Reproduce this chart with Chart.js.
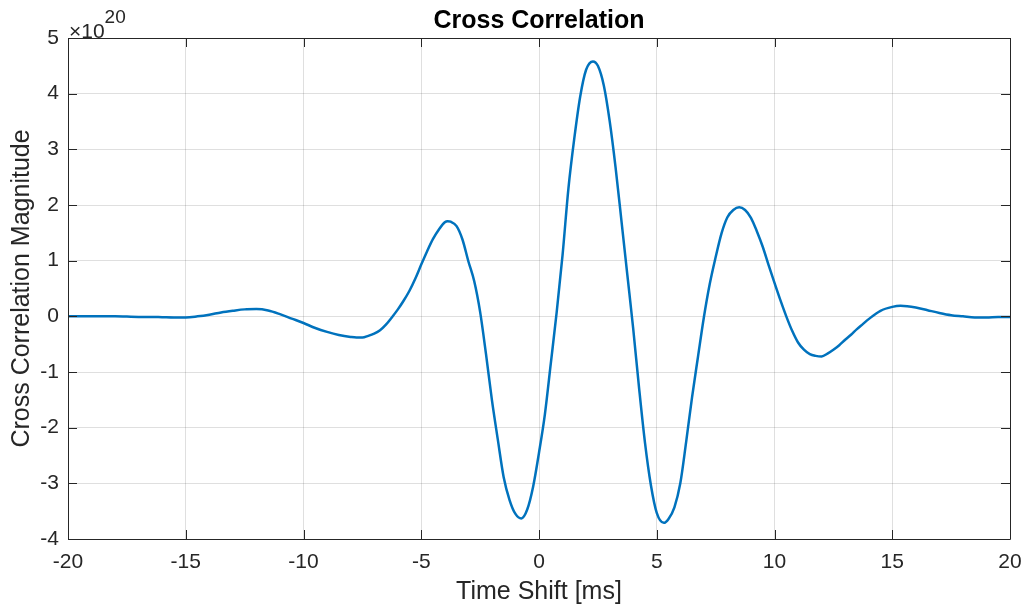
<!DOCTYPE html>
<html>
<head>
<meta charset="utf-8">
<title>Cross Correlation</title>
<script src="https://cdn.jsdelivr.net/npm/chart.js@4"></script>
<style>
  html, body { margin: 0; padding: 0; background: #fff; }
  #xcorr { display: block; }
</style>
</head>
<body>
<canvas id="xcorr" width="1026" height="607"></canvas>
<script>
// ===== Data (magnitude in units of 1e20) =====
const timeShiftMs = [
  -20, -19.5, -19, -18.5, -18, -17.5, -17, -16.5, -16, -15.5,
  -15, -14.5, -14, -13.5, -13, -12.5, -12, -11.5, -11, -10.5,
  -10, -9.5, -9, -8.5, -8, -7.75, -7.5, -7.25, -7, -6.75,
  -6.5, -6.25, -6, -5.75, -5.5, -5.25, -5, -4.75, -4.5, -4.25,
  -4, -3.88, -3.75, -3.5, -3.25, -3, -2.75, -2.5, -2.25, -2,
  -1.75, -1.5, -1.25, -1, -0.75, -0.5, -0.25, 0, 0.25, 0.5,
  0.75, 1, 1.25, 1.5, 1.75, 2, 2.29, 2.5, 2.75, 3,
  3.25, 3.5, 3.75, 4, 4.25, 4.5, 4.75, 5, 5.3, 5.5,
  5.75, 6, 6.25, 6.5, 6.75, 7, 7.25, 7.5, 7.75, 8,
  8.25, 8.5, 8.75, 9, 9.25, 9.5, 9.75, 10, 10.25, 10.5,
  10.75, 11, 11.25, 11.5, 11.75, 12, 12.25, 12.5, 12.75, 13,
  13.25, 13.5, 13.75, 14, 14.5, 15, 15.35, 16, 16.5, 17,
  17.5, 18, 18.5, 19, 19.5, 20,
];

const xcorrMagnitude = [
  0, 0, 0, 0, 0, -0.005, -0.01, -0.01, -0.015, -0.02,
  -0.02, 0, 0.03, 0.07, 0.1, 0.125, 0.13, 0.105, 0.04, -0.04,
  -0.12, -0.21, -0.28, -0.335, -0.37, -0.38, -0.38, -0.35, -0.31, -0.25,
  -0.15, -0.02, 0.12, 0.28, 0.46, 0.68, 0.93, 1.17, 1.39, 1.56,
  1.69, 1.71, 1.7, 1.62, 1.38, 0.99, 0.63, 0.08, -0.68, -1.5,
  -2.21, -2.89, -3.3, -3.55, -3.63, -3.47, -3.06, -2.45, -1.76, -0.85,
  0.07, 1.1, 2.3, 3.2, 3.95, 4.43, 4.58, 4.5, 4.15, 3.51,
  2.68, 1.72, 0.75, -0.22, -1.29, -2.27, -3.03, -3.53, -3.71, -3.64,
  -3.43, -3, -2.25, -1.45, -0.73, -0.02, 0.58, 1.06, 1.49, 1.78,
  1.91, 1.96, 1.91, 1.77, 1.53, 1.25, 0.92, 0.6, 0.29, 0,
  -0.26, -0.47, -0.6, -0.68, -0.71, -0.72, -0.67, -0.6, -0.52, -0.42,
  -0.33, -0.23, -0.14, -0.05, 0.1, 0.17, 0.19, 0.16, 0.11, 0.06,
  0.02, 0, -0.02, -0.02, -0.01, -0.01,
];

const xTicks = [-20, -15, -10, -5, 0, 5, 10, 15, 20];
const yTicks = [-4, -3, -2, -1, 0, 1, 2, 3, 4, 5];
const yExponent = 20;

const FONT = '"Liberation Sans", Arial, Helvetica, sans-serif';
const AXIS_COLOR = '#262626';
const LINE_BLUE = '#0072bd';
const TICK_LEN = 9;

// ===== Box, inward ticks, title and exponent (MATLAB look) =====
const matlabAxes = {
  id: 'matlabAxes',
  afterDraw(chart) {
    const { ctx, chartArea: area, scales } = chart;
    const { left, right, top, bottom } = area;
    ctx.save();
    ctx.strokeStyle = AXIS_COLOR;
    ctx.lineWidth = 1;
    ctx.beginPath();
    ctx.rect(Math.round(left) + 0.5, Math.round(top) + 0.5,
      Math.round(right - left), Math.round(bottom - top));
    xTicks.forEach((v) => {
      const px = Math.round(scales.x.getPixelForValue(v)) + 0.5;
      ctx.moveTo(px, bottom); ctx.lineTo(px, bottom - TICK_LEN);
      ctx.moveTo(px, top); ctx.lineTo(px, top + TICK_LEN);
    });
    yTicks.forEach((v) => {
      const py = Math.round(scales.y.getPixelForValue(v)) + 0.5;
      ctx.moveTo(left, py); ctx.lineTo(left + TICK_LEN, py);
      ctx.moveTo(right, py); ctx.lineTo(right - TICK_LEN, py);
    });
    ctx.stroke();

    // title, centred over the plot box
    ctx.fillStyle = '#000';
    ctx.font = `bold 25px ${FONT}`;
    ctx.textAlign = 'center';
    ctx.textBaseline = 'alphabetic';
    ctx.fillText('Cross Correlation', (left + right) / 2, 28);

    // ×10^20 multiplier above the y axis
    ctx.fillStyle = AXIS_COLOR;
    ctx.textAlign = 'left';
    ctx.font = `21px ${FONT}`;
    const base = '\u00d710';
    ctx.fillText(base, left + 1, 37.5);
    const w = ctx.measureText(base).width;
    ctx.font = `19px ${FONT}`;
    ctx.fillText(String(yExponent), left + 1 + w, 22.5);
    ctx.restore();
  },
};

// ===== Chart =====
function renderXcorrChart() {
  const canvas = document.getElementById('xcorr');
  const points = timeShiftMs.map((t, i) => ({ x: t, y: xcorrMagnitude[i] }));
  const gridColor = 'rgba(38, 38, 38, 0.15)';

  new Chart(canvas, {
    type: 'line',
    data: {
      datasets: [
        {
          data: points,
          borderColor: LINE_BLUE,
          borderWidth: 2.5,
          pointRadius: 0,
          cubicInterpolationMode: 'monotone',
          fill: false,
        },
      ],
    },
    options: {
      responsive: false,
      devicePixelRatio: 1,
      animation: false,
      layout: { padding: { top: 38, right: 16, left: 0, bottom: 0 } },
      plugins: {
        legend: { display: false },
        tooltip: { enabled: false },
        title: { display: false },
      },
      scales: {
        x: {
          type: 'linear',
          min: -20,
          max: 20,
          afterFit: (scale) => {
            scale.height = 68;
            scale.paddingLeft = 0;
            scale.paddingRight = 0;
          },
          afterBuildTicks: (scale) => { scale.ticks = xTicks.map((v) => ({ value: v })); },
          ticks: {
            padding: 11,
            color: AXIS_COLOR,
            font: { family: FONT, size: 21 },
            maxRotation: 0,
            autoSkip: false,
            callback: (v) => String(v),
          },
          grid: { color: gridColor, drawTicks: false },
          border: { display: false },
          title: {
            display: true,
            text: 'Time Shift [ms]',
            color: AXIS_COLOR,
            font: { family: FONT, size: 25 },
            padding: { top: 0, bottom: 0 },
          },
        },
        y: {
          type: 'linear',
          min: -4,
          max: 5,
          afterFit: (scale) => {
            scale.width = 68;
            scale.paddingTop = 0;
            scale.paddingBottom = 0;
          },
          afterBuildTicks: (scale) => { scale.ticks = yTicks.map((v) => ({ value: v })); },
          ticks: {
            padding: 9,
            color: AXIS_COLOR,
            font: { family: FONT, size: 21 },
            autoSkip: false,
            callback: (v) => String(v),
          },
          grid: { color: gridColor, drawTicks: false },
          border: { display: false },
          title: {
            display: true,
            text: 'Cross Correlation Magnitude',
            color: AXIS_COLOR,
            font: { family: FONT, size: 25 },
            padding: { top: 7, bottom: 0 },
          },
        },
      },
    },
    plugins: [matlabAxes],
  });
}

document.addEventListener('DOMContentLoaded', renderXcorrChart);
</script>
</body>
</html>
